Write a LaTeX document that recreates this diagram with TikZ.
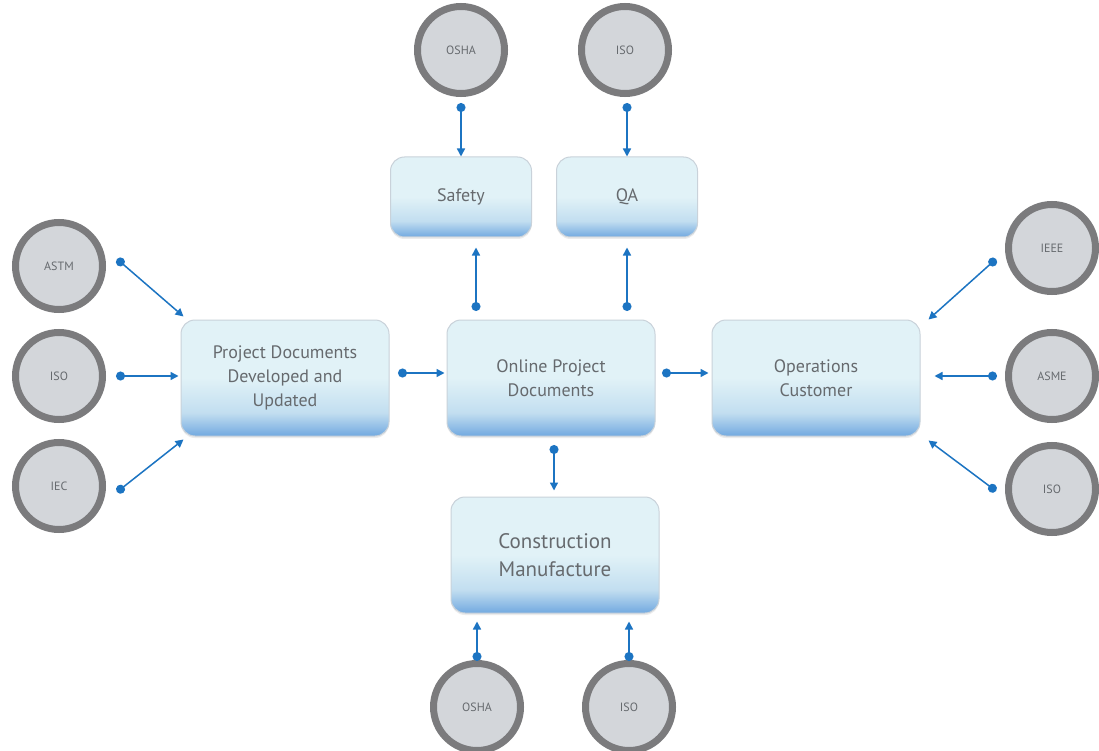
\documentclass[tikz,border=0pt]{standalone}
\usepackage{fontspec}
\setmainfont{PT Sans}
\usetikzlibrary{arrows.meta,shadows}
\definecolor{boxtop}{HTML}{E1F2F7}
\definecolor{boxmid}{HTML}{C2DEF0}
\definecolor{boxbot}{HTML}{72A9E0}
\definecolor{boxline}{HTML}{C9D2DA}
\definecolor{circfill}{HTML}{D3D6DA}
\definecolor{circline}{HTML}{7B7B7D}
\definecolor{arrowblue}{HTML}{1C74C2}
\definecolor{txtgray}{HTML}{666A6E}
\pgfdeclareverticalshading{boxshade}{100bp}{color(0bp)=(boxbot); color(25bp)=(boxbot); color(35bp)=(boxmid); color(50bp)=(boxtop); color(100bp)=(boxtop)}
\tikzset{
  procbox/.style={rounded corners=14pt, draw=boxline, line width=1pt, shading=boxshade,
    minimum width=208pt, minimum height=116pt, align=center, text=txtgray,
    font=\fontsize{18}{24}\selectfont, drop shadow={shadow xshift=0pt, shadow yshift=-2pt, opacity=0.15}},
  smallbox/.style={procbox, minimum width=141pt, minimum height=80pt},
  stdcirc/.style={circle, draw=circline, line width=7pt, fill=circfill, minimum size=87pt,
    inner sep=0pt, text=txtgray, font=\fontsize{12}{14}\selectfont},
  link/.style={draw=arrowblue, line width=1.5pt, {Circle[length=9pt,width=9pt]}-{Triangle[length=8pt,width=8pt]}}
}
\begin{document}
\begin{tikzpicture}[x=1pt,y=-1pt]
\useasboundingbox[fill=white] (0,0) rectangle (1099,751);
% boxes
\node[smallbox] (safety) at (461,197) {Safety};
\node[smallbox] (qa) at (627,197) {QA};
\node[procbox] (proj) at (285,378) {Project Documents\\Developed and\\Updated};
\node[procbox] (online) at (551,378) {Online Project\\Documents};
\node[procbox] (ops) at (816,378) {Operations\\Customer};
\node[procbox, font=\fontsize{21}{28}\selectfont] (constr) at (555,555) {Construction\\Manufacture};
% circles
\node[stdcirc] (oshaT) at (461,50) {OSHA};
\node[stdcirc] (isoT) at (625,50) {ISO};
\node[stdcirc] (astm) at (59,266) {ASTM};
\node[stdcirc] (isoL) at (59,376) {ISO};
\node[stdcirc] (iec) at (59,486) {IEC};
\node[stdcirc] (ieee) at (1052,248) {IEEE};
\node[stdcirc] (asme) at (1052,376) {ASME};
\node[stdcirc] (isoR) at (1052,489) {ISO};
\node[stdcirc] (oshaB) at (477,707) {OSHA};
\node[stdcirc] (isoB) at (629,707) {ISO};
% connector start points (dots)
\coordinate (d1) at (461,103);
\coordinate (d2) at (627,103);
\coordinate (d3) at (476,311);
\coordinate (d4) at (627,311);
\coordinate (d5) at (117,259);
\coordinate (d6) at (116,376);
\coordinate (d7) at (117,492);
\coordinate (d8) at (398,373);
\coordinate (d9) at (662,373);
\coordinate (d10) at (554,445);
\coordinate (d11) at (996,259);
\coordinate (d12) at (997,376);
\coordinate (d13) at (996,491);
\coordinate (d14) at (477,661);
\coordinate (d15) at (629,661);
% connectors
\draw[link] (d1) -- (safety.north -| d1);
\draw[link] (d2) -- (qa.north -| d2);
\draw[link] (d3) -- ([yshift=-10pt]safety.south -| d3);
\draw[link] (d4) -- ([yshift=-10pt]qa.south -| d4);
\draw[link] (d5) -- ([xshift=3pt,yshift=3pt]proj.north west);
\draw[link] (d6) -- ([xshift=-2pt]proj.west |- d6);
\draw[link] (d7) -- ([xshift=3pt,yshift=-3pt]proj.south west);
\draw[link] (d8) -- ([xshift=-2pt]online.west |- d8);
\draw[link] (d9) -- ([xshift=-3pt]ops.west |- d9);
\draw[link] (d10) -- ([yshift=6pt]constr.north -| d10);
\draw[link] (d11) -- ([xshift=8pt,yshift=0pt]ops.north east);
\draw[link] (d12) -- ([xshift=14pt]ops.east |- d12);
\draw[link] (d13) -- ([xshift=8pt,yshift=-4pt]ops.south east);
\draw[link] (d14) -- ([yshift=-8pt]constr.south -| d14);
\draw[link] (d15) -- ([yshift=-8pt]constr.south -| d15);
\end{tikzpicture}
\end{document}
